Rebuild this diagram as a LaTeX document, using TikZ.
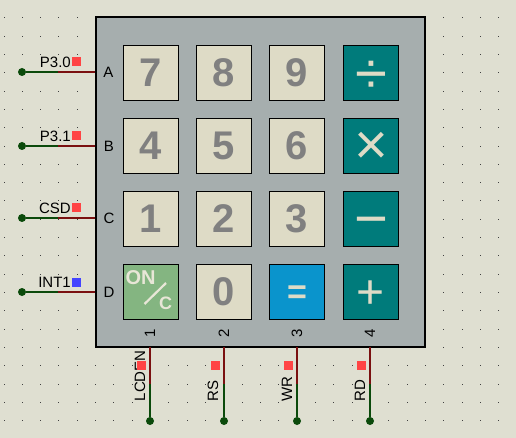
\documentclass[tikz,border=0pt]{standalone}
\usepackage{xcolor}
\usepackage{fontspec}
\setmainfont{Liberation Sans}
\usetikzlibrary{calc, positioning}
\definecolor{sheetbg}{HTML}{DFDFD1}
\definecolor{boardgrey}{HTML}{A6AEAE}
\definecolor{keycream}{HTML}{DEDBC6}
\definecolor{keyteal}{HTML}{007B7B}
\definecolor{keyblue}{HTML}{0A94CC}
\definecolor{keygreen}{HTML}{84B581}
\definecolor{wiregreen}{HTML}{0B4A0B}
\definecolor{wirered}{HTML}{7A1010}
\definecolor{pinred}{HTML}{FF4444}
\definecolor{pinblue}{HTML}{4444FF}
\tikzset{
	board/.style={
		draw,
		fill=boardgrey,
		line width=2pt,
		minimum size=329pt,
		inner sep=0pt
	},
	numkey/.style={
		draw,
		fill=keycream,
		line width=.9pt,
		minimum size=55pt,
		inner sep=0pt,
		text=gray,
		font=\fontsize{40}{40}\selectfont\bfseries
	},
	opkey/.style={
		numkey,
		fill=keyteal
	},
	opsign/.style={
		inner sep=0pt,
		text=keycream,
		font=\fontsize{58}{58}\selectfont
	},
	onlabel/.style={
		inner sep=0pt,
		text=keycream!70!white,
		font=\fontsize{20}{20}\selectfont\bfseries
	},
	junction/.style={
		circle,
		fill=wiregreen,
		inner sep=0pt,
		minimum size=8pt
	},
	pinmark/.style={
		fill=pinred,
		inner sep=0pt,
		minimum size=9pt
	},
	lowwire/.style={
		wiregreen,
		line width=1.8pt
	},
	highwire/.style={
		wirered,
		line width=1.8pt
	},
	netlabel/.style={
		inner sep=0pt,
		font=\fontsize{15}{15}\selectfont
	},
	pinlabel/.style={
		inner sep=0pt,
		font=\fontsize{15}{15}\selectfont
	}
}
\begin{document}
\begin{tikzpicture}[x=1pt, y=-1pt]
	\useasboundingbox (0,0) rectangle (516,438);
	\fill[sheetbg] (0,0) rectangle (516,438);
	% sheet grid
	\foreach \i in {0,...,27}
		\foreach \j in {0,...,22}
			\fill[black!75] ({4+18.33*\i-.5},{18+18.3*\j-.5}) rectangle +(1,1);

	\node[board] at (260,182) (keypad) {};

	% keys
	\node[numkey] at (151,72.5) (k7) {7};
	\node[numkey] at (224,72.5) (k8) {8};
	\node[numkey] at (297,72.5) (k9) {9};
	\node[opkey] at (371,72.5) (kdiv) {};
	\node[numkey] at (151,146) (k4) {4};
	\node[numkey] at (224,146) (k5) {5};
	\node[numkey] at (297,146) (k6) {6};
	\node[opkey] at (371,146) (kmul) {};
	\node[numkey] at (151,219) (k1) {1};
	\node[numkey] at (224,219) (k2) {2};
	\node[numkey] at (297,219) (k3) {3};
	\node[opkey] at (371,219) (ksub) {};
	\node[numkey, fill=keygreen] at (151,292) (kon) {};
	\node[numkey] at (224,292) (k0) {0};
	\node[opkey, fill=keyblue] at (297,292) (keq) {};
	\node[opkey] at (371,292) (kadd) {};

	% key signs
	\node[opsign, yshift=-5pt] at (kdiv) (sdiv) {÷};
	\node[opsign, yshift=-2.5pt] at (kmul) (smul) {×};
	\node[opsign, yshift=-9pt] at (ksub) (ssub) {−};
	\node[opsign, yshift=-3pt, font=\fontsize{34}{34}\selectfont\bfseries] at (keq) (seq) {=};
	\node[opsign, yshift=-2.5pt, font=\fontsize{48}{48}\selectfont] at (kadd) (sadd) {+};

	\node[onlabel] at (140.5,278) (lon) {ON};
	\node[onlabel, font=\fontsize{18}{18}\selectfont\bfseries] at (165.5,303.5) (lc) {C};
	\coordinate (sa) at (144.5,304);
	\coordinate (sb) at (166,283);
	\draw[keycream!70!white, line width=2.2pt] (sa) -- (sb);

	% row letters
	\node[netlabel] at (108.5,72.5) (la) {A};
	\node[netlabel] at (109,146) (lb) {B};
	\node[netlabel] at (109,218.5) (lcc) {C};
	\node[netlabel] at (109,292.5) (ld) {D};

	% column numbers
	\node[netlabel, rotate=90] at (150,333.5) (l1) {1};
	\node[netlabel, rotate=90] at (224,333.5) (l2) {2};
	\node[netlabel, rotate=90] at (297,333.5) (l3) {3};
	\node[netlabel, rotate=90] at (370,333.5) (l4) {4};

	% left wires
	\foreach \nm/\yy/\txt/\col in {a/72/P3.0/pinred, b/146/P3.1/pinred, c/218/CSD/pinred, d/292/INT1/pinblue} {
		\node[junction] at (22,\yy) (j\nm) {};
		\coordinate (m\nm) at (58,\yy);
		\coordinate (p\nm) at (95,\yy);
		\draw[lowwire] (j\nm) -- (m\nm);
		\draw[highwire] (m\nm) -- (p\nm);
		\node[pinlabel, anchor=east] at (71,\yy-10) (t\nm) {\txt};
		\node[pinmark, fill=\col] at (76.5,\yy-10) (s\nm) {};
	}

	% bottom wires
	\foreach \nm/\xx/\txt/\tx in {e/150/LCDEN/140, f/224/RS/213, g/297/WR/287, h/370/RD/360} {
		\node[junction] at (\xx,421) (j\nm) {};
		\coordinate (m\nm) at (\xx,384);
		\coordinate (p\nm) at (\xx,347);
		\draw[lowwire] (j\nm) -- (m\nm);
		\draw[highwire] (m\nm) -- (p\nm);
		\node[pinlabel, rotate=90, anchor=west] at (\tx,401.5) (t\nm) {\txt};
		\node[pinmark] at (\xx-9,365) (s\nm) {};
	}
\end{tikzpicture}
\end{document}
